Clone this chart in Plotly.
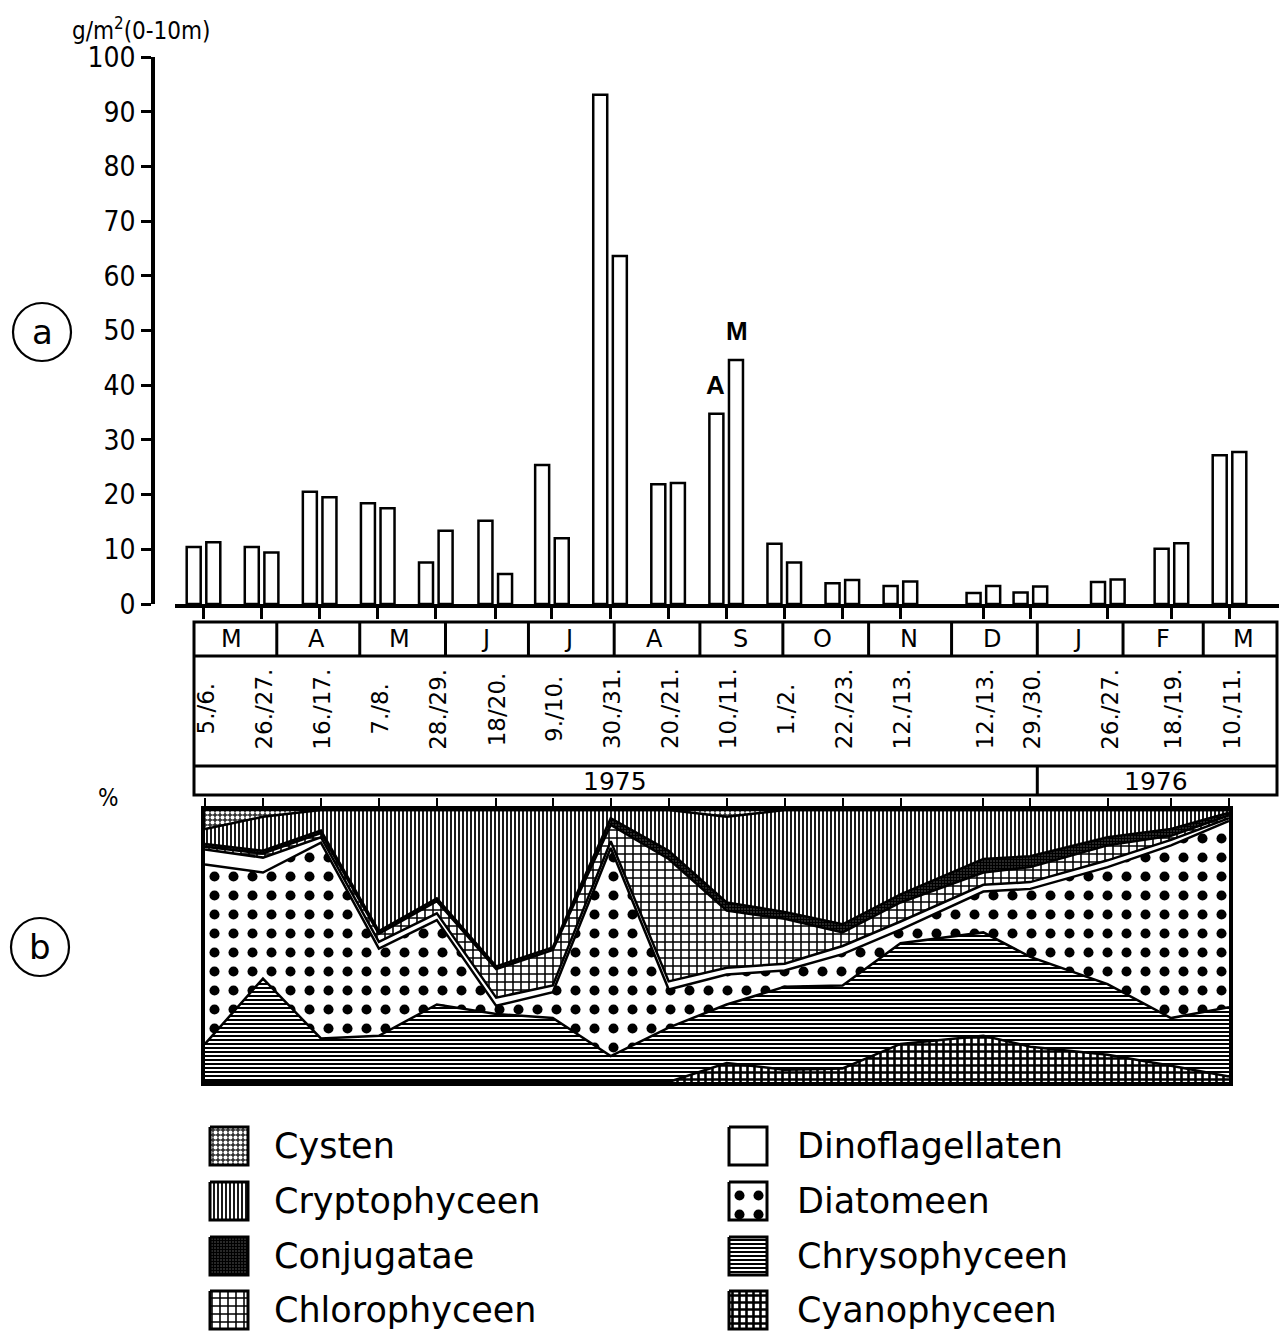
import plotly.graph_objects as go
import pandas as pd

# page body has an 8px margin; the figure is placed so reference pixels map 1:1
OFF = 8
FW, FH = 1272, 1326

# ---------------- data ----------------
date_labels = ["5./6.", "26./27.", "16./17.", "7./8.", "28./29.", "18/20.", "9./10.",
               "30./31.", "20./21.", "10./11.", "1./2.", "22./23.", "12./13.", "12./13.",
               "29./30.", "26./27.", "18./19.", "10./11."]
sample_dates = ["1975-03-05 12:00", "1975-03-26 12:00", "1975-04-16 12:00", "1975-05-07 12:00",
                "1975-05-28 12:00", "1975-06-19 00:00", "1975-07-09 12:00", "1975-07-30 12:00",
                "1975-08-20 12:00", "1975-09-10 12:00", "1975-10-01 12:00", "1975-10-22 12:00",
                "1975-11-12 12:00", "1975-12-12 12:00", "1975-12-29 12:00", "1976-01-26 12:00",
                "1976-02-18 12:00", "1976-03-10 12:00"]
biomass_A = [10.4, 10.4, 20.5, 18.4, 7.6, 15.2, 25.4, 93.1, 21.9, 34.8, 11.0, 3.8, 3.3, 2.0,
             2.1, 4.0, 10.1, 27.2]
biomass_M = [11.3, 9.4, 19.5, 17.5, 13.4, 5.5, 12.0, 63.6, 22.1, 44.6, 7.6, 4.4, 4.1, 3.3,
             3.2, 4.5, 11.1, 27.8]

month_labels = ["M", "A", "M", "J", "J", "A", "S", "O", "N", "D", "J", "F", "M"]
month_starts = ["1975-03-01", "1975-04-01", "1975-05-01", "1975-06-01", "1975-07-01",
                "1975-08-01", "1975-09-01", "1975-10-01", "1975-11-01", "1975-12-01",
                "1976-01-01", "1976-02-01", "1976-03-01"]
year_labels = ["1975", "1976"]
year_start_1976 = "1976-01-01"

# percentage composition (panel b), bottom to top
cyanophyceen = [0, 0, 0, 0, 0, 0, 0, 0, 0, 7, 4.5, 5, 14, 17, 13, 10, 6, 2]
chrysophyceen = [14, 38, 16, 17, 28.5, 25, 23.5, 9.5, 20, 21.5, 30.5, 30.5, 37, 38, 33, 26, 17.5, 25.5]
diatomeen = [66, 39, 72, 32, 31, 3, 9.5, 76.5, 14, 11, 6, 11.5, 5, 15, 25, 43, 63.5, 68.5]
dinoflagellaten = [5.5, 5.5, 2, 2.5, 2.5, 3, 2.5, 2.5, 3, 2.5, 2.5, 3, 3, 2.5, 2.5, 2.5, 2, 1]
chlorophyceen = [1, 1.5, 1.5, 3, 4.5, 10.5, 13, 6, 45, 21, 16.5, 5, 7, 4.5, 5.5, 5.5, 1.5, 1]
conjugatae = [1, 1, 1, 1, 1, 1, 1, 2.5, 3, 3, 2.5, 3, 3, 5, 4, 3, 2.5, 1]
cryptophyceen = [5.5, 12.5, 7.5, 44.5, 32.5, 57.5, 50.5, 3, 15, 31.5, 37.5, 42, 31, 18, 17, 10, 7, 1]
cysten = [7, 2.5, 0, 0, 0, 0, 0, 0, 0, 2.5, 0, 0, 0, 0, 0, 0, 0, 0]

# ---------------- styles ----------------
FONT = "DejaVu Sans"
NUMFONT = "Liberation Sans Narrow, DejaVu Sans Condensed, Liberation Sans"
BLACK = "#000000"

patterns = {
    "Cyanophyceen": dict(shape="+", size=7, solidity=0.6, fgcolor=BLACK, bgcolor="white", fgopacity=1),
    "Chrysophyceen": dict(shape="-", size=4, solidity=0.5, fgcolor=BLACK, bgcolor="white", fgopacity=1),
    "Diatomeen": dict(shape=".", size=19, solidity=0.22, fgcolor=BLACK, bgcolor="white", fgopacity=1),
    "Dinoflagellaten": None,
    "Chlorophyceen": dict(shape="+", size=8, solidity=0.35, fgcolor=BLACK, bgcolor="white", fgopacity=1),
    "Conjugatae": dict(shape="+", size=3, solidity=0.6, fgcolor=BLACK, bgcolor="#2a2a2a", fgopacity=1),
    "Cryptophyceen": dict(shape="|", size=4, solidity=0.45, fgcolor=BLACK, bgcolor="white", fgopacity=1),
    "Cysten": dict(shape=".", size=5, solidity=0.5, fgcolor="white", bgcolor="#333333", fgopacity=1),
}

# pixel <-> date mapping helpers (layout only, reference-picture pixels)
REF_DATE = pd.Timestamp("1975-03-05 12:00")
REF_PX = 203.5
PX_PER_DAY = 2.7655


def px_to_date(px):
    return (REF_DATE + pd.Timedelta(days=(px - REF_PX) / PX_PER_DAY)).strftime("%Y-%m-%d %H:%M:%S")


def xp(px):
    return (px - OFF) / FW


def yp(py):
    return 1 - (py - OFF) / FH


DAY_MS = 86400000
bar_w_ms = 14 / PX_PER_DAY * DAY_MS

fig = go.Figure()

# ---------------- panel a: bars ----------------
fig.add_trace(go.Bar(x=sample_dates, y=biomass_A, width=bar_w_ms,
                     offset=-16.8 / PX_PER_DAY * DAY_MS,
                     marker=dict(color="white", line=dict(color=BLACK, width=2.5)),
                     xaxis="x", yaxis="y", showlegend=False, name="A"))
fig.add_trace(go.Bar(x=sample_dates, y=biomass_M, width=bar_w_ms,
                     offset=2.8 / PX_PER_DAY * DAY_MS,
                     marker=dict(color="white", line=dict(color=BLACK, width=2.5)),
                     xaxis="x", yaxis="y", showlegend=False, name="M"))

# ---------------- panel b: stacked areas ----------------
series = [("Cyanophyceen", cyanophyceen), ("Chrysophyceen", chrysophyceen),
          ("Diatomeen", diatomeen), ("Dinoflagellaten", dinoflagellaten),
          ("Chlorophyceen", chlorophyceen), ("Conjugatae", conjugatae),
          ("Cryptophyceen", cryptophyceen), ("Cysten", cysten)]
for name, vals in series:
    pat = patterns[name]
    kw = dict(fillpattern=pat, fillcolor="white") if pat else dict(fillcolor="white")
    fig.add_trace(go.Scatter(x=sample_dates, y=vals, stackgroup="b", mode="lines",
                             line=dict(color=BLACK, width=2.5), xaxis="x2", yaxis="y2",
                             showlegend=False, name=name, **kw))

# ---------------- legend (custom swatches) ----------------
legend_left = ["Cysten", "Cryptophyceen", "Conjugatae", "Chlorophyceen"]
legend_right = ["Dinoflagellaten", "Diatomeen", "Chrysophyceen", "Cyanophyceen"]
row_y = [1146, 1201, 1256, 1310]
annotations = []
for col_names, sx, tx in [(legend_left, 210, 272), (legend_right, 729, 795)]:
    for name, cy in zip(col_names, row_y):
        pat = patterns[name]
        kw = dict(fillpattern=pat, fillcolor="white") if pat else dict(fillcolor="white")
        s = 19
        fig.add_trace(go.Scatter(x=[sx, sx + 2 * s, sx + 2 * s, sx, sx],
                                 y=[cy - s, cy - s, cy + s, cy + s, cy - s],
                                 fill="toself", mode="lines",
                                 line=dict(color=BLACK, width=3), xaxis="x3", yaxis="y3",
                                 showlegend=False, hoverinfo="skip", **kw))
        annotations.append(dict(x=tx, y=cy, xref="x3", yref="y3", text=name, showarrow=False,
                                xanchor="left", yanchor="middle",
                                font=dict(family=FONT, size=35, color=BLACK)))

# ---------------- table band (months / dates / years) ----------------
shapes = []
LW = 3
t_top, t_m, t_d, t_bot = 622, 656, 766, 795
shapes.append(dict(type="rect", xref="paper", yref="paper", x0=xp(194), x1=xp(1277),
                   y0=yp(t_bot), y1=yp(t_top), line=dict(color=BLACK, width=LW)))
for yy in (t_m, t_d):
    shapes.append(dict(type="line", xref="paper", yref="paper", x0=xp(194), x1=xp(1277),
                       y0=yp(yy), y1=yp(yy), line=dict(color=BLACK, width=LW)))
for ms in month_starts[1:]:
    shapes.append(dict(type="line", xref="x", yref="paper", x0=ms, x1=ms,
                       y0=yp(t_top), y1=yp(t_m), line=dict(color=BLACK, width=LW)))
shapes.append(dict(type="line", xref="x", yref="paper", x0=year_start_1976, x1=year_start_1976,
                   y0=yp(t_d), y1=yp(t_bot), line=dict(color=BLACK, width=LW)))

for lab, ms in zip(month_labels, month_starts):
    mid = (pd.Timestamp(ms) + pd.Timedelta(days=14.5)).strftime("%Y-%m-%d %H:%M")
    annotations.append(dict(x=mid, y=yp(639), xref="x", yref="paper", text=lab, showarrow=False,
                            xanchor="center", yanchor="middle",
                            font=dict(family=FONT, size=24, color=BLACK)))
for lab, d in zip(date_labels, sample_dates):
    annotations.append(dict(x=d, y=yp(709), xref="x", yref="paper", text=lab, showarrow=False,
                            textangle=-90, xanchor="center", yanchor="middle", xshift=2,
                            font=dict(family=FONT, size=23, color=BLACK)))
annotations.append(dict(x=xp((194 + 1035) / 2), y=yp(781), xref="paper", yref="paper",
                        text=year_labels[0], showarrow=False, xanchor="center", yanchor="middle",
                        font=dict(family=FONT, size=25, color=BLACK)))
annotations.append(dict(x=xp((1035 + 1277) / 2), y=yp(781), xref="paper", yref="paper",
                        text=year_labels[1], showarrow=False, xanchor="center", yanchor="middle",
                        font=dict(family=FONT, size=25, color=BLACK)))

# A / M labels over the Sept pair
annotations.append(dict(x=sample_dates[9], y=biomass_A[9], xref="x", yref="y", text="<b>A</b>",
                        showarrow=False, xshift=-11, xanchor="center", yanchor="bottom", yshift=12,
                        font=dict(family="Liberation Sans", size=26, color=BLACK)))
annotations.append(dict(x=sample_dates[9], y=biomass_M[9], xref="x", yref="y", text="<b>M</b>",
                        showarrow=False, xshift=11, xanchor="center", yanchor="bottom", yshift=12,
                        font=dict(family="Liberation Sans", size=26, color=BLACK)))

# unit labels
annotations.append(dict(x=xp(70), y=yp(29), xref="paper", yref="paper",
                        text="g/m<sup>2</sup>(0-10m)", showarrow=False, xanchor="left",
                        yanchor="middle", font=dict(family=NUMFONT, size=24, color=BLACK)))
annotations.append(dict(x=xp(108), y=yp(798), xref="paper", yref="paper", text="%",
                        showarrow=False, xanchor="center", yanchor="middle",
                        font=dict(family=NUMFONT, size=24, color=BLACK)))

# circled panel letters
for letter, cx, cy in [("a", 42, 332), ("b", 40, 947)]:
    r = 29
    shapes.append(dict(type="circle", xref="paper", yref="paper", x0=xp(cx - r), x1=xp(cx + r),
                       y0=yp(cy + r), y1=yp(cy - r), line=dict(color=BLACK, width=2.2)))
    annotations.append(dict(x=xp(cx), y=yp(cy), xref="paper", yref="paper", text=letter,
                            showarrow=False, xanchor="center", yanchor="middle",
                            font=dict(family=FONT, size=34, color=BLACK)))

# ---------------- axes ----------------
tick_font = dict(family=NUMFONT, size=28, color=BLACK)
fig.update_layout(
    width=FW, height=FH, margin=dict(l=0, r=0, t=0, b=0, pad=0, autoexpand=False),
    paper_bgcolor="white", plot_bgcolor="rgba(0,0,0,0)",
    barmode="overlay", showlegend=False,
    shapes=shapes, annotations=annotations,
    xaxis=dict(domain=[xp(175), xp(1279)], range=[px_to_date(175), px_to_date(1279)],
               type="date", anchor="y", showline=True, linewidth=4, linecolor=BLACK,
               ticks="outside", tickvals=sample_dates, ticklen=11, tickwidth=2.5,
               tickcolor=BLACK, showticklabels=False, showgrid=False, zeroline=False,
               automargin=False),
    yaxis=dict(domain=[yp(604), yp(57)], range=[0, 100], anchor="free", position=xp(153),
               showline=True, linewidth=3.5, linecolor=BLACK, ticks="outside",
               tickvals=list(range(0, 101, 10)), ticklen=10, tickwidth=2.5, tickcolor=BLACK,
               tickfont=tick_font, showgrid=False, zeroline=False, automargin=False),
    xaxis2=dict(domain=[xp(205), xp(1229)], range=[sample_dates[0], sample_dates[-1]],
                type="date", anchor="y2", side="top", showline=True, mirror=True,
                linewidth=4, linecolor=BLACK, ticks="outside", tickvals=sample_dates,
                ticklen=8, tickwidth=2, tickcolor=BLACK, showticklabels=False,
                showgrid=False, zeroline=False, automargin=False),
    yaxis2=dict(domain=[yp(1082), yp(810)], range=[0, 100], anchor="x2", showline=True,
                mirror=True, linewidth=4, linecolor=BLACK, ticks="", showticklabels=False,
                showgrid=False, zeroline=False, automargin=False),
    yaxis4=dict(overlaying="y2", range=[0, 100], anchor="free", position=xp(153),
                showline=True, linewidth=3.5, linecolor=BLACK, ticks="outside",
                tickvals=list(range(0, 101, 20)), ticklen=10, tickwidth=2.5, tickcolor=BLACK,
                tickfont=tick_font, showgrid=False, zeroline=False, automargin=False,
                minor=dict(tickvals=list(range(10, 100, 20)), ticks="outside", ticklen=10,
                           tickwidth=2.5, tickcolor=BLACK)),
    xaxis3=dict(domain=[0, 1], range=[OFF, OFF + FW], visible=False, anchor="y3"),
    yaxis3=dict(domain=[0, yp(1110)], range=[OFF + FH, 1110], visible=False, anchor="x3"),
)

fig.write_html("out.html")
